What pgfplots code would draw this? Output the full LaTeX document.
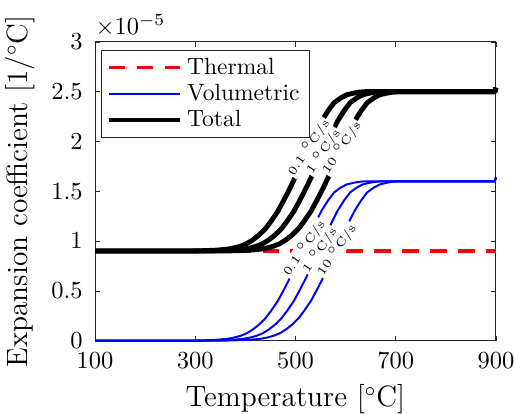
\documentclass[border=0pt]{standalone}
\usepackage{pgfplots}
\usepackage{pgfplotstable}
\pgfplotsset{compat=1.18}
\pgfplotstableread{
T1 T2 T3 v tot
100 100 100 0 0.9
290 322 356 0 0.9
315 347 381 0.0032 0.9032
340 372 406 0.008 0.908
352 384 418 0.0128 0.9128
365 397 431 0.0192 0.9192
377 409 443 0.0304 0.9304
390 422 456 0.048 0.948
402 434 468 0.072 0.972
415 447 481 0.112 1.012
427 459 493 0.16 1.06
440 472 506 0.224 1.124
452 484 518 0.304 1.204
465 497 531 0.4 1.3
477 509 543 0.512 1.412
490 522 556 0.64 1.54
502 534 568 0.768 1.668
515 547 581 0.912 1.812
527 559 593 1.048 1.948
540 572 606 1.184 2.084
552 584 618 1.304 2.204
565 597 631 1.408 2.308
577 609 643 1.488 2.388
590 622 656 1.536 2.436
602 634 668 1.568 2.468
615 647 681 1.584 2.484
627 659 693 1.595 2.495
640 672 706 1.6 2.5
898 898 898 1.6 2.5
900 900 900 1.64 2.54
}\datatab
\begin{document}
\begin{tikzpicture}
\begin{axis}[
  name=ax,
  scale only axis, width=163.7pt, height=122pt,
  xmin=100, xmax=900, ymin=0, ymax=3,
  xtick={100,300,500,700,900}, ytick={0,0.5,1,1.5,2,2.5,3},
  tick align=inside, major tick length=2pt,
  axis line style={black!85}, tick style={black!85},
  xlabel={Temperature [$^\circ$C]},
  ylabel={Expansion coefficient [1/$^\circ$C]},
  label style={font=\fontsize{12}{14}\selectfont},
  tick label style={font=\fontsize{10}{12}\selectfont},
  yticklabel style={xshift=-1.5pt},
  xticklabel style={yshift=-1.2pt},
  legend style={at={(rel axis cs:0,1)}, anchor=north west, xshift=2.4pt, yshift=-3.3pt,
    font=\fontsize{9.6}{10}\selectfont, draw=black!85, row sep=-1.5pt, inner xsep=2pt, inner ysep=1pt},
  legend cell align=left,
  legend image code/.code={\draw[#1] (0pt,0pt) -- (29pt,0pt);},
  clip=false,
]
\addplot[red, line width=1.35pt, dash pattern=on 6.8pt off 4.6pt] coordinates {(100,0.9) (900,0.9)};
\addlegendentry{Thermal}
\addplot[blue, line width=0.8pt, line join=round] table[x=T1, y=v] {\datatab};
\addlegendentry{Volumetric}
\addplot[black, line width=2pt, line join=round] table[x=T1, y=tot] {\datatab};
\addlegendentry{Total}
\addplot[blue, line width=0.8pt, line join=round, forget plot] table[x=T2, y=v] {\datatab};
\addplot[blue, line width=0.8pt, line join=round, forget plot] table[x=T3, y=v] {\datatab};
\addplot[black, line width=2pt, line join=round, forget plot] table[x=T2, y=tot] {\datatab};
\addplot[black, line width=2pt, line join=round, forget plot] table[x=T3, y=tot] {\datatab};
\node[anchor=south west, inner sep=0pt, font=\fontsize{10}{12}\selectfont] at (rel axis cs:0,1) [yshift=2pt] {$\times10^{-5}$};
\tikzset{rl/.style={fill=white, inner sep=0.4pt, rotate=56, font=\fontsize{5}{6}\selectfont}}
\node[rl] at (axis cs:517,0.93) {0.1 $^\circ$C/s};
\node[rl] at (axis cs:548,0.91) {1 $^\circ$C/s};
\node[rl] at (axis cs:582,0.91) {10 $^\circ$C/s};
\node[rl] at (axis cs:526,1.94) {0.1 $^\circ$C/s};
\node[rl] at (axis cs:555,1.90) {1 $^\circ$C/s};
\node[rl] at (axis cs:592,1.94) {10 $^\circ$C/s};
\end{axis}
\pgfresetboundingbox
\path[use as bounding box] ([xshift=-38.8pt,yshift=-29.8pt]ax.south west) rectangle ([xshift=7.8pt,yshift=17.1pt]ax.north east);
\end{tikzpicture}
\end{document}
